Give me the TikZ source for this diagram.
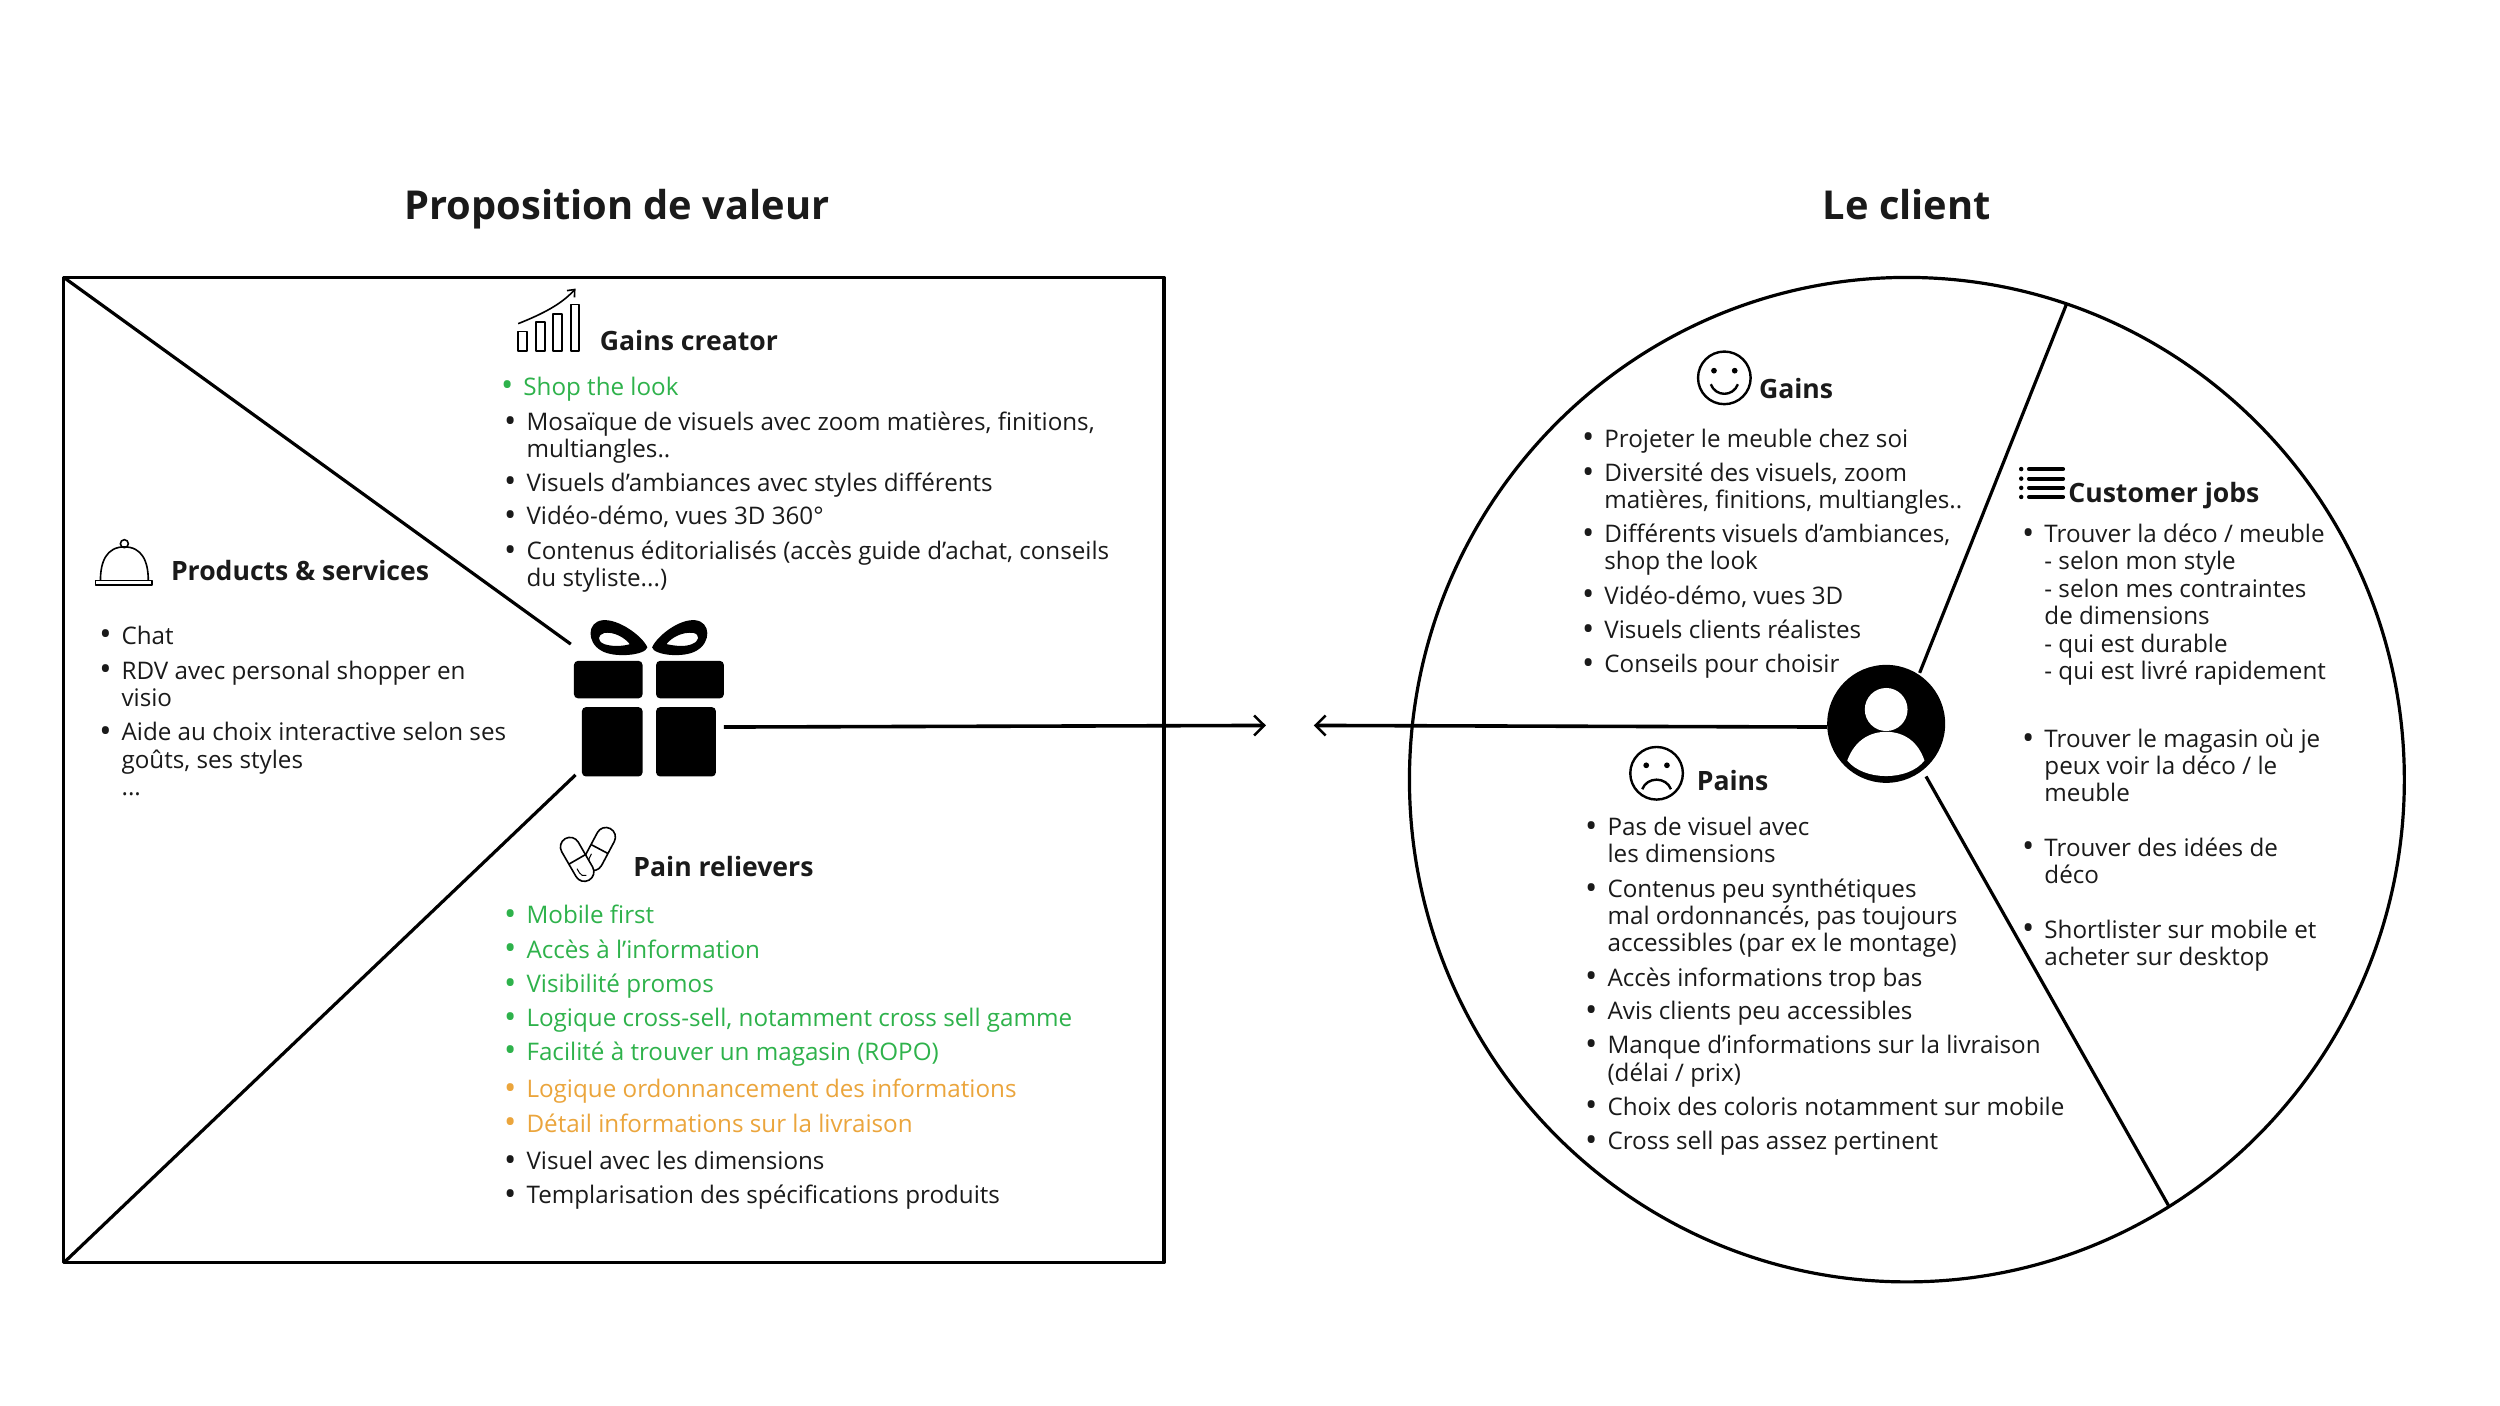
\documentclass[tikz,border=0pt]{standalone}
\usepackage{fontspec}
\setmainfont{Open Sans}
\definecolor{ink}{HTML}{1A1A1A}
\definecolor{vertc}{HTML}{2EB24B}
\definecolor{orangec}{HTML}{EBA53C}
\newcount\itemno
\newcommand{\bulmark}{\makebox[11.16pt][l]{\raisebox{-0.12ex}{\scalebox{1.35}{•}}}}
\newcommand{\plainline}[4][ink]{\global\advance\itemno by 1 \node[txt,text=#1] (l\the\itemno) at (#2,#3+6) {#4};}
\newcommand{\bulline}[4][ink]{\global\advance\itemno by 1 \node[txt,text=#1] (l\the\itemno) at (#2,#3+6) {\bulmark#4};}
\tikzset{
  txt/.style={inner sep=0pt,anchor=base west,font=\fontsize{12.1}{14}\selectfont},
  head/.style={inner sep=0pt,anchor=base west,text=ink,font=\fontsize{13.3}{15}\selectfont\bfseries},
  maintitle/.style={inner sep=0pt,anchor=base,text=ink,font=\fontsize{19.9}{22}\selectfont\bfseries},
  frame/.style={draw=black,line width=1.6pt},
  conn/.style={draw=black,line width=1.6pt},
  arr/.style={draw=black,line width=1.8pt,-{Straight Barb[length=5pt,width=10pt,line width=1.3pt]}},
  ico/.style={draw=black,line width=0.8pt},
}
\usetikzlibrary{arrows.meta}
\begin{document}
\begin{tikzpicture}[x=0.7972pt,y=-0.7972pt,line join=round]
\useasboundingbox (0,0) rectangle (1568,881.25);
\fill[white] (0,0) rectangle (1568,881.25);
% titles
\node[maintitle] (t1) at (387,137.5) {Proposition de valeur};
\node[maintitle] (t2) at (1196,137.5) {Le client};
% value map
\coordinate (boxNW) at (40,174);
\coordinate (boxSW) at (40,792);
\coordinate (boxSE) at (730,792);
\coordinate (giftNW) at (358,404);
\coordinate (giftSW) at (361,486);
\coordinate (giftE) at (454,456);
\coordinate (arrA) at (794,455);
\coordinate (arrB) at (824,455);
\coordinate (custW) at (1146,456);
\draw[frame] (boxNW) rectangle (boxSE);
\draw[conn] (boxNW) -- (giftNW);
\draw[conn] (boxSW) -- (giftSW);
\draw[arr] (giftE) -- (arrA);
\draw[arr] (custW) -- (arrB);
% gift
\fill[black,rounded corners=2pt] (360,414.5) rectangle (403,438);
\fill[black,rounded corners=2pt] (411.5,414.5) rectangle (454,438);
\fill[black,rounded corners=2pt] (365,443.5) rectangle (403,487);
\fill[black,rounded corners=2pt] (411.5,443.5) rectangle (449,487);
\fill[black,even odd rule] (378,389) .. controls (388,388) and (403,399) .. (406,406) .. controls (405,411) and (385,413) .. (377,408) .. controls (368,403) and (368,390) .. (378,389) -- cycle
  (379,397) .. controls (375,398) and (374,402) .. (379,404) .. controls (385,406) and (392,405) .. (395,404) .. controls (392,400) and (385,396) .. (379,397) -- cycle;
\fill[black,even odd rule] (436,389) .. controls (426,388) and (412,399) .. (409,406) .. controls (410,411) and (429,413) .. (437,408) .. controls (446,403) and (446,390) .. (436,389) -- cycle
  (435,397) .. controls (428,396) and (421,400) .. (418,404) .. controls (423,405) and (429,406) .. (434,404) .. controls (439,402) and (439,398) .. (435,397) -- cycle;
% bar chart icon
\draw[ico] (325,208) rectangle (330.5,220);
\draw[ico] (336,202) rectangle (342,220);
\draw[ico] (347,197) rectangle (352.5,220);
\draw[ico] (358,191) rectangle (363,220);
\draw[ico,-{Straight Barb[length=3pt,width=5pt]}] (325,203) .. controls (340,197) and (352,191) .. (361,181);
% bell icon
\draw[ico] (60,364) rectangle (95.5,367);
\draw[ico] (63,364) .. controls (63,352) and (67,343) .. (78,343) .. controls (89,343) and (93,352) .. (93,364);
\draw[ico] (78,341) circle (2.5);
% pills icon
\begin{scope}[shift={(376,532.5)},rotate=-28]
\draw[ico] (-6,-8.5) arc[start angle=180,end angle=0,x radius=6,y radius=-6] -- (6,8.5) arc[start angle=0,end angle=-180,x radius=6,y radius=-6] -- cycle;
\draw[ico] (-6,0) -- (6,0);
\draw[draw=black,line width=0.5pt] (-3,5) -- (-3,8) .. controls (-3,10) and (-2,11) .. (0,11.5);
\end{scope}
\begin{scope}[shift={(362,539)},rotate=30]
\draw[ico,fill=white] (-6,-9) arc[start angle=180,end angle=0,x radius=6,y radius=-6] -- (6,9) arc[start angle=0,end angle=-180,x radius=6,y radius=-6] -- cycle;
\draw[ico] (-6,0) -- (6,0);
\draw[draw=black,line width=0.5pt] (-3,5) -- (-3,8) .. controls (-3,10) and (-2,11) .. (0,11.5);
\end{scope}
% smile
\draw[black,line width=1.2pt] (1081.5,237) circle (16.5);
\fill (1075,232.5) circle (1.8);
\fill (1088,232.5) circle (1.8);
\draw[black,line width=1.2pt] (1073,241) .. controls (1076,249) and (1087,249) .. (1090,241);
% sad
\draw[black,line width=1.2pt] (1039,485) circle (16.5);
\fill (1032.5,480) circle (1.8);
\fill (1045.5,480) circle (1.8);
\draw[black,line width=1.2pt] (1030,495) .. controls (1033,487) and (1045,487) .. (1048,495);
% list icon
\foreach \yy in {294.2,300.2,306,311.7}{
  \draw[black,line width=1.9pt,line cap=round] (1272.5,\yy) -- (1294,\yy);
  \fill (1267.7,\yy) circle (1.4);
}
% customer map
\draw[conn] (1196,489) ellipse [x radius=312,y radius=315];
\coordinate (rimTop) at (1296,191);
\coordinate (rimBot) at (1360,756);
\coordinate (custNE) at (1204,422);
\coordinate (custSE) at (1208,487);
\draw[conn] (rimTop) -- (custNE);
\draw[conn] (rimBot) -- (custSE);
% person
\fill[black] (1183,454) circle (37);
\fill[white] (1183,445) ellipse [x radius=13.4,y radius=13.5];
\fill[white] (1158.6,477) .. controls (1163,465) and (1172,459) .. (1183,459) .. controls (1194,459) and (1203,465) .. (1207,477) .. controls (1197,490) and (1169,490) .. (1158.6,477) -- cycle;
% headings
\node[head] (h1) at (376,220) {Gains creator};
\node[head] (h2) at (107,364) {Products \& services};
\node[head] (h3) at (397,550) {Pain relievers};
\node[head] (h4) at (1103,250) {Gains};
\node[head] (h5) at (1297,315) {Customer jobs};
\node[head] (h6) at (1064,496) {Pains};
% gains creator
\bulline[vertc]{314}{242}{Shop the look}
\bulline{316}{264}{Mosaïque de visuels avec zoom matières, finitions,}
\plainline{330}{281}{multiangles..}
\bulline{316}{302}{Visuels d’ambiances avec styles différents}
\bulline{316}{323}{Vidéo-démo, vues 3D 360°}
\bulline{316}{345}{Contenus éditorialisés (accès guide d’achat, conseils}
\plainline{330}{362}{du styliste...)}
% products
\bulline{62}{398}{Chat}
\bulline{62}{420}{RDV avec personal shopper en}
\plainline{76}{437}{visio}
\bulline{62}{458.5}{Aide au choix interactive selon ses}
\plainline{76}{476}{goûts, ses styles}
\plainline{76}{493}{...}
% pain relievers
\bulline[vertc]{316}{573.5}{Mobile first}
\bulline[vertc]{316}{595}{Accès à l’information}
\bulline[vertc]{316}{616.5}{Visibilité promos}
\bulline[vertc]{316}{638}{Logique cross-sell, notamment cross sell gamme}
\bulline[vertc]{316}{659}{Facilité à trouver un magasin (ROPO)}
\bulline[orangec]{316}{682.5}{Logique ordonnancement des informations}
\bulline[orangec]{316}{704}{Détail informations sur la livraison}
\bulline{316}{727.5}{Visuel avec les dimensions}
\bulline{316}{749}{Templarisation des spécifications produits}
% gains
\bulline{992}{274.5}{Projeter le meuble chez soi}
\bulline{992}{296}{Diversité des visuels, zoom}
\plainline{1006}{313}{matières, finitions, multiangles..}
\bulline{992}{334.5}{Différents visuels d’ambiances,}
\plainline{1006}{351.5}{shop the look}
\bulline{992}{373}{Vidéo-démo, vues 3D}
\bulline{992}{394.5}{Visuels clients réalistes}
\bulline{992}{416}{Conseils pour choisir}
% customer jobs
\bulline{1268}{334.5}{Trouver la déco / meuble}
\plainline{1282}{351.5}{- selon mon style}
\plainline{1282}{368.5}{- selon mes contraintes}
\plainline{1282}{385.5}{de dimensions}
\plainline{1282}{403}{- qui est durable}
\plainline{1282}{420}{- qui est livré rapidement}
\bulline{1268}{463}{Trouver le magasin où je}
\plainline{1282}{480}{peux voir la déco / le}
\plainline{1282}{497}{meuble}
\bulline{1268}{531}{Trouver des idées de}
\plainline{1282}{548}{déco}
\bulline{1268}{582.5}{Shortlister sur mobile et}
\plainline{1282}{599.5}{acheter sur desktop}
% pains
\bulline{994}{518}{Pas de visuel avec}
\plainline{1008}{535}{les dimensions}
\bulline{994}{557}{Contenus peu synthétiques}
\plainline{1008}{574}{mal ordonnancés, pas toujours}
\plainline{1008}{591}{accessibles (par ex le montage)}
\bulline{994}{612.5}{Accès informations trop bas}
\bulline{994}{633.5}{Avis clients peu accessibles}
\bulline{994}{655}{Manque d’informations sur la livraison}
\plainline{1008}{672}{(délai / prix)}
\bulline{994}{693.5}{Choix des coloris notamment sur mobile}
\bulline{994}{715}{Cross sell pas assez pertinent}
\end{tikzpicture}
\end{document}
